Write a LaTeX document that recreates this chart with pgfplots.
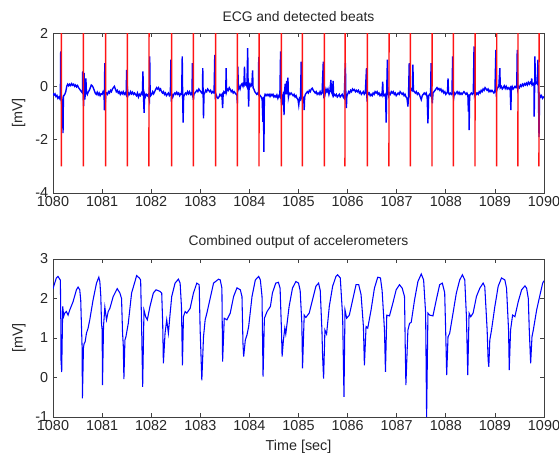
\documentclass[border=0pt]{standalone}
\usepackage{fontspec}
\setmainfont{Liberation Sans}
\usepackage{pgfplots}
\pgfplotsset{compat=1.18}
\definecolor{beatred}{RGB}{255,20,20}
\pgfplotsset{mystyle/.style={
  scale only axis, anchor=south west,
  width=368.25pt,
  xmin=1080, xmax=1090, xtick={1080,1081,...,1090},
  tick align=inside, major tick length=3pt,
  axis line style={black!75, line width=0.6pt},
  every tick/.style={black!75, line width=0.6pt},
  /pgf/number format/assume math mode=true,
  /pgf/number format/1000 sep={},
  tick label style={font=\fontsize{10.8}{12}\selectfont, black!85},
  xticklabel style={yshift=1pt},
  label style={font=\fontsize{10.8}{12}\selectfont, black!85},
  every axis title shift=0pt,
  title style={font=\fontsize{10.4}{12}\selectfont, black!85},
  ylabel={[mV]},
  ylabel style={at={(axis description cs:-0.0697,0.5)}, anchor=center},
}}
\pgfplotsset{beat/.style={draw=beatred, color=beatred, line width=1.1pt, forget plot}}
\begin{document}
\fontsize{10.4}{12}\selectfont
\begin{tikzpicture}
\useasboundingbox (0pt,0pt) rectangle (419.25pt,-342.75pt);
\begin{axis}[mystyle, at={(39.75pt,-144.75pt)}, height=120pt,
  ymin=-4, ymax=2, ytick={-4,-2,0,2},
  title={ECG and detected beats},
  title style={at={(axis description cs:0.5,1.105)}, anchor=center}]
\addplot[blue, line width=1.05pt] coordinates {
(1080.00,-0.26) (1080.02,-0.33) (1080.04,-0.28) (1080.06,-0.38) (1080.08,-0.34) (1080.10,-0.45) (1080.12,-0.40) (1080.14,-0.47) (1080.15,-0.3) (1080.157,1.31) (1080.165,-0.2) (1080.175,-0.5) (1080.185,-1.25) (1080.195,-0.6) (1080.204,-1.75) (1080.212,-0.4) (1080.22,-0.35)
(1080.24,-0.3) (1080.26,-0.2) (1080.28,0.0) (1080.30,0.08) (1080.32,0.02) (1080.34,0.08) (1080.36,0.03) (1080.38,0.1) (1080.40,0.04) (1080.42,0.08) (1080.44,0.0) (1080.46,0.05) (1080.48,-0.02) (1080.50,0.03) (1080.52,-0.05) (1080.54,-0.1) (1080.56,-0.15) (1080.58,-0.2) (1080.60,-0.25)
(1080.605,0.56) (1080.615,-0.3) (1080.625,-0.74) (1080.635,0.5) (1080.645,-0.5) (1080.66,-0.3) (1080.67,0.3) (1080.68,-0.2) (1080.70,-0.3) (1080.72,-0.2) (1080.74,-0.15) (1080.76,-0.05) (1080.78,0.05) (1080.80,0.02) (1080.82,-0.05) (1080.84,-0.15) (1080.86,-0.25) (1080.88,-0.3) (1080.90,-0.22) (1080.92,-0.32) (1080.94,-0.25) (1080.96,-0.35) (1080.98,-0.28) (1081.00,-0.3) (1081.02,-0.2)
(1081.04,-0.3) (1081.048,-0.9) (1081.054,0.87) (1081.06,0.6) (1081.066,-0.6) (1081.075,-0.3) (1081.09,-0.25) (1081.11,-0.3) (1081.13,-0.2) (1081.15,-0.25) (1081.17,-0.15) (1081.19,-0.2) (1081.21,-0.1) (1081.23,-0.05) (1081.25,0.0) (1081.27,-0.1) (1081.29,-0.2) (1081.31,-0.15) (1081.33,-0.25) (1081.35,-0.2) (1081.37,-0.3) (1081.39,-0.22) (1081.41,-0.28) (1081.43,-0.2) (1081.45,-0.3) (1081.47,-0.25) (1081.49,-0.32)
(1081.50,0.62) (1081.508,-0.38) (1081.515,0.0) (1081.525,-0.35) (1081.54,-0.25) (1081.56,-0.3) (1081.58,-0.2) (1081.60,-0.28) (1081.62,-0.22) (1081.64,-0.3) (1081.66,-0.25) (1081.68,-0.3) (1081.70,-0.35) (1081.72,-0.25) (1081.74,-0.4)
(1081.76,-0.3) (1081.78,-0.35) (1081.80,-0.25) (1081.82,-0.3) (1081.832,0.56) (1081.84,-0.2) (1081.855,-0.99) (1081.865,-0.3) (1081.88,-0.4) (1081.90,-0.3) (1081.92,-0.35) (1081.94,-0.3)
(1081.962,-0.5) (1081.97,1.12) (1081.978,-0.2) (1081.99,-0.35) (1082.01,-0.3) (1082.03,-0.2) (1082.05,-0.28) (1082.07,-0.2) (1082.09,-0.12) (1082.11,-0.05) (1082.13,-0.1) (1082.15,-0.05) (1082.17,-0.15) (1082.19,-0.1) (1082.21,-0.2) (1082.23,-0.25) (1082.25,-0.2) (1082.27,-0.3) (1082.29,-0.25) (1082.31,-0.35) (1082.33,-0.3) (1082.35,-0.25) (1082.37,-0.35) (1082.39,-0.3)
(1082.40,1.0) (1082.41,-0.57) (1082.42,-0.3) (1082.44,-0.4) (1082.46,-0.3) (1082.48,-0.25) (1082.50,-0.3) (1082.52,-0.22) (1082.54,-0.3) (1082.56,-0.25) (1082.58,-0.35) (1082.60,-0.28) (1082.62,-0.3) (1082.632,1.12) (1082.64,-0.3) (1082.65,-1.36) (1082.66,-0.4) (1082.68,-0.3) (1082.70,-0.25) (1082.72,-0.3) (1082.74,-0.2) (1082.76,-0.28) (1082.78,-0.2) (1082.80,-0.3) (1082.82,-0.25)
(1082.83,-0.3) (1082.84,0.87) (1082.85,-0.2) (1082.86,-0.51) (1082.87,-0.3) (1082.89,-0.25) (1082.91,-0.2) (1082.93,-0.15) (1082.95,-0.2) (1082.97,-0.1) (1082.99,-0.15) (1083.01,-0.2) (1083.03,-0.25) (1083.045,-0.2) (1083.05,0.68) (1083.058,-0.3) (1083.065,-1.2) (1083.075,-0.3) (1083.09,-0.25) (1083.11,-0.15) (1083.13,-0.2) (1083.15,-0.1) (1083.17,-0.15) (1083.19,-0.2) (1083.21,-0.15) (1083.23,-0.25) (1083.25,-0.2) (1083.27,-0.25)
(1083.28,-0.25) (1083.295,1.18) (1083.305,-0.49) (1083.32,-0.3) (1083.34,-0.4) (1083.36,-0.45) (1083.38,-0.4) (1083.40,-0.3) (1083.42,-0.35) (1083.44,-0.3) (1083.455,-0.82) (1083.465,-0.3) (1083.48,-0.2) (1083.50,-0.25) (1083.52,-0.15) (1083.525,0.68) (1083.535,-0.2) (1083.55,-0.1) (1083.57,-0.15) (1083.59,-0.05) (1083.61,-0.12) (1083.63,-0.2) (1083.65,-0.15) (1083.67,-0.25) (1083.69,-0.2) (1083.71,-0.25) (1083.73,-0.3)
(1083.745,-0.3) (1083.755,-0.64) (1083.765,0.74) (1083.775,-0.1) (1083.79,0.0) (1083.81,-0.1) (1083.83,0.05) (1083.85,0.1) (1083.87,0.0) (1083.89,0.15) (1083.90,0.74) (1083.91,0.05) (1083.93,0.1) (1083.95,0.0) (1083.965,1.43) (1083.975,-0.1) (1083.985,-0.76) (1083.995,0.05) (1084.01,0.1) (1084.03,0.0) (1084.05,0.05) (1084.065,0.6) (1084.075,-0.05) (1084.09,-0.1) (1084.11,-0.2) (1084.13,-0.25) (1084.15,-0.3) (1084.17,-0.25)
(1084.185,-0.3) (1084.19,1.1) (1084.20,-0.3) (1084.22,-0.35) (1084.24,-0.4) (1084.26,-0.5) (1084.275,-1.33) (1084.285,-0.4) (1084.295,-2.46) (1084.305,-0.4) (1084.32,-0.3) (1084.34,-0.35) (1084.36,-0.3) (1084.38,-0.35) (1084.40,-0.3) (1084.42,-0.38) (1084.44,-0.3) (1084.46,-0.35) (1084.48,-0.3) (1084.50,-0.4) (1084.52,-0.35) (1084.54,-0.4) (1084.56,-0.32) (1084.58,-0.45) (1084.60,-0.35) (1084.62,-0.4)
(1084.635,1.31) (1084.645,-0.3) (1084.655,-0.7) (1084.665,-0.3) (1084.68,-0.5) (1084.695,-0.2) (1084.705,-1.08) (1084.715,-0.2) (1084.73,0.1) (1084.745,-0.3) (1084.76,0.2) (1084.77,-0.3) (1084.785,0.33) (1084.795,-0.4) (1084.81,-0.25) (1084.83,-0.3) (1084.85,-0.25) (1084.87,-0.3) (1084.89,-0.35) (1084.91,-0.3) (1084.93,-0.4) (1084.95,-0.35) (1084.97,-0.45) (1084.99,-0.5) (1085.005,-0.7) (1085.02,-0.45) (1085.04,-0.5)
(1085.055,0.93) (1085.065,-0.4) (1085.08,-0.5) (1085.095,-0.45) (1085.11,-0.6) (1085.116,-0.89) (1085.125,-0.4) (1085.14,-0.3) (1085.16,-0.25) (1085.18,-0.2) (1085.20,-0.25) (1085.22,-0.15) (1085.24,-0.2) (1085.26,-0.1) (1085.28,-0.07) (1085.30,-0.15) (1085.32,-0.2) (1085.34,-0.25) (1085.36,-0.2) (1085.38,-0.3) (1085.40,-0.25) (1085.42,-0.3) (1085.44,-0.2) (1085.46,-0.3) (1085.48,-0.25)
(1085.505,0.93) (1085.515,-0.45) (1085.525,-0.2) (1085.54,-0.3) (1085.56,-0.1) (1085.58,-0.2) (1085.60,-0.1) (1085.62,-0.3) (1085.64,-0.15) (1085.66,0.24) (1085.67,-0.2) (1085.69,-0.3) (1085.705,0.2) (1085.715,-0.35) (1085.73,-0.3) (1085.75,-0.35) (1085.77,-0.3) (1085.79,-0.4) (1085.81,-0.35) (1085.83,-0.3) (1085.85,-0.4) (1085.87,-0.35) (1085.89,-0.3) (1085.91,-0.4) (1085.93,-0.45)
(1085.955,0.87) (1085.965,-0.4) (1085.975,-0.82) (1085.985,-0.35) (1086.00,-0.3) (1086.02,-0.2) (1086.04,-0.25) (1086.06,-0.15) (1086.08,-0.2) (1086.10,-0.1) (1086.12,-0.15) (1086.14,-0.12) (1086.16,-0.2) (1086.18,-0.15) (1086.20,-0.2) (1086.22,-0.15) (1086.24,-0.25) (1086.26,-0.2) (1086.28,-0.3) (1086.30,-0.25) (1086.32,-0.2) (1086.34,-0.3) (1086.36,-0.25)
(1086.385,0.68) (1086.395,-0.57) (1086.405,-0.2) (1086.42,-0.3) (1086.44,-0.25) (1086.46,-0.35) (1086.48,-0.3) (1086.50,-0.35) (1086.52,-0.25) (1086.54,-0.3) (1086.56,-0.2) (1086.58,-0.25) (1086.60,-0.2) (1086.62,-0.3) (1086.64,-0.25) (1086.66,-0.35) (1086.68,-0.3) (1086.70,-0.35) (1086.715,0.18) (1086.725,-0.3) (1086.74,-0.35) (1086.76,-0.3) (1086.775,-0.4) (1086.785,-1.36) (1086.795,-0.3)
(1086.81,1.0) (1086.82,-0.2) (1086.835,-0.35) (1086.85,-0.25) (1086.87,-0.3) (1086.89,-0.2) (1086.91,-0.25) (1086.93,-0.2) (1086.95,-0.3) (1086.97,-0.25) (1086.99,-0.35) (1087.01,-0.3) (1087.03,-0.25) (1087.05,-0.3) (1087.07,-0.2) (1087.09,-0.25) (1087.11,-0.3) (1087.13,-0.25) (1087.15,-0.35) (1087.17,-0.3) (1087.19,-0.4) (1087.21,-0.45) (1087.228,-0.76) (1087.24,-0.4)
(1087.255,0.87) (1087.265,-0.3) (1087.28,-0.2) (1087.30,-0.1) (1087.32,-0.15) (1087.33,0.81) (1087.34,-0.15) (1087.36,-0.2) (1087.38,-0.25) (1087.40,-0.2) (1087.42,-0.3) (1087.44,-0.25) (1087.46,-0.3) (1087.48,-0.4) (1087.50,-0.5) (1087.52,-0.35) (1087.54,-0.3) (1087.56,-0.25) (1087.58,-0.3) (1087.60,-0.25) (1087.62,-0.4) (1087.636,-1.39) (1087.65,-0.35) (1087.67,-0.3) (1087.69,-0.35)
(1087.70,0.87) (1087.71,-0.3) (1087.725,-0.64) (1087.74,-0.25) (1087.76,-0.2) (1087.78,-0.15) (1087.80,-0.1) (1087.82,-0.05) (1087.84,-0.12) (1087.86,-0.08) (1087.88,-0.15) (1087.90,-0.1) (1087.92,-0.2) (1087.94,-0.15) (1087.96,-0.25) (1087.98,-0.2) (1088.00,-0.3) (1088.02,-0.25) (1088.035,-0.2) (1088.045,0.3) (1088.055,-0.25) (1088.07,-0.3) (1088.09,-0.25) (1088.11,-0.3) (1088.125,-0.25)
(1088.14,1.12) (1088.15,-0.3) (1088.16,-0.45) (1088.175,-0.25) (1088.19,-0.3) (1088.21,-0.25) (1088.23,-0.2) (1088.25,-0.28) (1088.27,-0.22) (1088.29,-0.3) (1088.31,-0.25) (1088.33,-0.3) (1088.35,-0.25) (1088.37,-0.2) (1088.39,-0.25) (1088.41,-0.3) (1088.43,-0.25) (1088.45,-0.35) (1088.46,-0.95) (1088.468,-0.3) (1088.475,-1.64) (1088.485,-0.35) (1088.50,-0.3) (1088.52,-0.25) (1088.54,-0.3) (1088.56,-0.25)
(1088.575,1.5) (1088.585,-0.3) (1088.60,-0.2) (1088.62,-0.3) (1088.64,-0.25) (1088.66,-0.3) (1088.68,-0.2) (1088.70,-0.25) (1088.72,-0.15) (1088.74,-0.2) (1088.76,-0.1) (1088.78,-0.15) (1088.80,-0.05) (1088.82,-0.1) (1088.84,-0.15) (1088.86,-0.1) (1088.88,-0.2) (1088.90,-0.15) (1088.92,-0.2) (1088.94,-0.15) (1088.96,-0.2) (1088.98,-0.25) (1089.00,-0.2)
(1089.02,1.37) (1089.03,-0.2) (1089.045,-0.1) (1089.06,-0.05) (1089.08,0.0) (1089.10,0.68) (1089.11,-0.05) (1089.13,0.0) (1089.15,-0.1) (1089.17,-0.05) (1089.19,0.02) (1089.21,-0.08) (1089.23,0.0) (1089.25,-0.1) (1089.27,-0.05) (1089.29,-0.1) (1089.31,-0.05) (1089.325,-0.89) (1089.335,-0.05) (1089.35,0.0) (1089.37,-0.1) (1089.39,-0.05) (1089.41,0.0) (1089.43,-0.05) (1089.445,0.0)
(1089.455,1.37) (1089.465,-0.1) (1089.48,0.0) (1089.50,-0.05) (1089.52,0.05) (1089.54,0.0) (1089.56,0.08) (1089.58,0.02) (1089.60,0.1) (1089.62,0.05) (1089.64,0.12) (1089.66,0.05) (1089.68,0.15) (1089.70,0.08) (1089.72,0.15) (1089.74,0.1) (1089.75,0.3) (1089.76,0.05) (1089.78,0.1) (1089.795,0.05) (1089.80,-1.14) (1089.81,0.1) (1089.815,1.12) (1089.825,0.1) (1089.84,0.15) (1089.86,0.1)
(1089.877,1.0) (1089.885,0.0) (1089.898,-1.9) (1089.91,-0.3) (1089.93,-0.4) (1089.95,-0.35) (1089.97,-0.45) (1090.00,-0.38)
};
\addplot[beat] coordinates {(1080.1705,-3) (1080.1715,2)};
\addplot[beat] coordinates {(1080.6185,-3) (1080.6195,2)};
\addplot[beat] coordinates {(1081.0725,-3) (1081.0735,2)};
\addplot[beat] coordinates {(1081.5145,-3) (1081.5155,2)};
\addplot[beat] coordinates {(1081.9545,-3) (1081.9555,2)};
\addplot[beat] coordinates {(1082.4165,-3) (1082.4175,2)};
\addplot[beat] coordinates {(1082.8585,-3) (1082.8595,2)};
\addplot[beat] coordinates {(1083.3125,-3) (1083.3135,2)};
\addplot[beat] coordinates {(1083.7555,-3) (1083.7565,2)};
\addplot[beat] coordinates {(1084.1955,-3) (1084.1965,2)};
\addplot[beat] coordinates {(1084.6515,-3) (1084.6525,2)};
\addplot[beat] coordinates {(1085.0785,-3) (1085.0795,2)};
\addplot[beat] coordinates {(1085.5265,-3) (1085.5275,2)};
\addplot[beat] coordinates {(1085.9465,-3) (1085.9475,2)};
\addplot[beat] coordinates {(1086.4025,-3) (1086.4035,2)};
\addplot[beat] coordinates {(1086.8425,-3) (1086.8435,2)};
\addplot[beat] coordinates {(1087.2785,-3) (1087.2795,2)};
\addplot[beat] coordinates {(1087.7185,-3) (1087.7195,2)};
\addplot[beat] coordinates {(1088.1545,-3) (1088.1555,2)};
\addplot[beat] coordinates {(1088.5945,-3) (1088.5955,2)};
\addplot[beat] coordinates {(1089.0365,-3) (1089.0375,2)};
\addplot[beat] coordinates {(1089.4695,-3) (1089.4705,2)};
\addplot[beat] coordinates {(1089.8975,-3) (1089.8985,2)};
\end{axis}
\begin{axis}[mystyle, at={(39.75pt,-312.75pt)}, height=118.5pt,
  ymin=-1, ymax=3, ytick={-1,0,1,2,3},
  title={Combined output of accelerometers},
  title style={at={(axis description cs:0.5,1.106)}, anchor=center},
  xlabel={Time [sec]},
  xlabel style={at={(axis description cs:0.5,-0.19)}, anchor=center}]
\addplot[blue, line width=0.8pt] coordinates {
(1080.000,2.25) (1080.068,2.52) (1080.102,2.56) (1080.136,2.49) (1080.150,2.47) (1080.158,1.6) (1080.163,0.44) (1080.177,0.14) (1080.198,1.80) (1080.218,1.55) (1080.238,1.63) (1080.272,1.67) (1080.307,1.58) (1080.341,1.71) (1080.409,1.92) (1080.477,2.22) (1080.511,2.29) (1080.545,2.22) (1080.565,1.95) (1080.579,1.33) (1080.593,0.75) (1080.599,-0.53) (1080.620,0.75) (1080.634,0.86) (1080.654,0.90) (1080.681,1.12) (1080.715,1.25) (1080.749,1.46) (1080.817,1.97) (1080.886,2.39) (1080.933,2.54) (1080.954,2.43) (1080.974,2.05) (1080.988,1.37) (1081.001,1.2) (1081.008,-0.19) (1081.029,1.30) (1081.056,1.78) (1081.090,1.46) (1081.124,1.67) (1081.158,1.75) (1081.226,2.05) (1081.308,2.25) (1081.362,2.14) (1081.396,2.0) (1081.417,1.12) (1081.431,0.82) (1081.444,-0.04) (1081.465,0.95) (1081.485,1.03) (1081.533,1.37) (1081.601,2.14) (1081.669,2.43) (1081.703,2.58) (1081.757,2.52) (1081.785,2.47) (1081.805,1.29) (1081.826,-0.24) (1081.853,1.71) (1081.887,1.54) (1081.921,1.46) (1081.975,1.80) (1082.044,2.14) (1082.098,2.22) (1082.180,2.18) (1082.214,2.14) (1082.234,1.37) (1082.248,0.36) (1082.282,1.12) (1082.316,1.46) (1082.350,1.12) (1082.384,1.6) (1082.418,2.05) (1082.486,2.39) (1082.554,2.49) (1082.589,2.39) (1082.616,1.8) (1082.636,0.31) (1082.657,1.54) (1082.691,1.67) (1082.725,1.63) (1082.793,1.75) (1082.861,2.14) (1082.929,2.39) (1082.977,2.35) (1082.997,1.2) (1083.031,-0.07) (1083.065,1.03) (1083.099,1.46) (1083.134,1.63) (1083.202,2.01) (1083.270,2.39) (1083.372,2.49) (1083.406,2.47) (1083.440,2.26) (1083.454,0.4) (1083.488,1.5) (1083.542,1.46) (1083.610,1.63) (1083.678,2.05) (1083.747,2.27) (1083.815,2.22) (1083.849,2.05) (1083.869,0.86) (1083.883,0.53) (1083.917,0.95) (1083.951,1.08) (1083.985,1.29) (1084.053,2.05) (1084.121,2.47) (1084.189,2.56) (1084.223,2.47) (1084.257,2.05) (1084.278,0.02) (1084.305,1.5) (1084.360,1.67) (1084.428,1.8)
(1084.469,2.14) (1084.537,2.39) (1084.591,2.41) (1084.625,2.26) (1084.653,1.2) (1084.666,0.53) (1084.693,0.95) (1084.721,1.25) (1084.741,1.1) (1084.809,1.8) (1084.877,2.26) (1084.946,2.43) (1085.000,2.39) (1085.034,2.2) (1085.068,1.37) (1085.082,0.23) (1085.116,1.58) (1085.150,1.52) (1085.218,1.63) (1085.286,1.97) (1085.354,2.31) (1085.409,2.39) (1085.443,2.2) (1085.477,1.2) (1085.490,0.57) (1085.511,-0.03) (1085.538,1.2) (1085.572,1.1) (1085.627,1.8) (1085.695,2.31) (1085.763,2.56) (1085.797,2.6) (1085.851,2.52) (1085.899,1.54) (1085.926,-0.49) (1085.947,1.71) (1085.981,1.5) (1086.035,1.58) (1086.104,1.97) (1086.172,2.35) (1086.226,2.35) (1086.274,2.1) (1086.322,1.29) (1086.342,0.31) (1086.376,1.29) (1086.410,1.25) (1086.478,1.71) (1086.546,2.26) (1086.614,2.54) (1086.669,2.52) (1086.703,2.2) (1086.751,1.2) (1086.771,0.14) (1086.798,1.58) (1086.853,1.56) (1086.921,1.88) (1086.989,2.22) (1087.057,2.35) (1087.112,2.26) (1087.159,2.05) (1087.173,0.86) (1087.187,-0.19) (1087.228,1.2) (1087.262,1.37) (1087.296,1.4) (1087.364,1.97) (1087.432,2.43) (1087.500,2.62) (1087.548,2.47) (1087.589,1.63) (1087.609,-1.0) (1087.636,1.63) (1087.670,1.58) (1087.738,1.56) (1087.807,1.97) (1087.875,2.35) (1087.929,2.39) (1087.977,2.15) (1087.997,1.2) (1088.018,0.06) (1088.045,1.03) (1088.079,1.12) (1088.147,1.63) (1088.215,2.14) (1088.283,2.47) (1088.338,2.6) (1088.386,2.47) (1088.420,1.54) (1088.447,0.06) (1088.474,1.63) (1088.508,1.54) (1088.556,1.63) (1088.624,2.05) (1088.692,2.26) (1088.760,2.39) (1088.794,2.3) (1088.842,1.2) (1088.862,0.44) (1088.876,0.27) (1088.896,0.95) (1088.931,1.2) (1088.999,1.8) (1089.067,2.31) (1089.135,2.52) (1089.203,2.47) (1089.237,2.26) (1089.278,1.2) (1089.292,0.19) (1089.319,1.2) (1089.360,1.58) (1089.407,1.54) (1089.475,1.92) (1089.544,2.22) (1089.612,2.32) (1089.646,2.26) (1089.680,2.0) (1089.700,1.2) (1089.728,0.36) (1089.755,1.03) (1089.782,1.2) (1089.850,1.71) (1089.918,2.09) (1089.973,2.39) (1090.000,2.45)
};
\end{axis}
\end{tikzpicture}
\end{document}
